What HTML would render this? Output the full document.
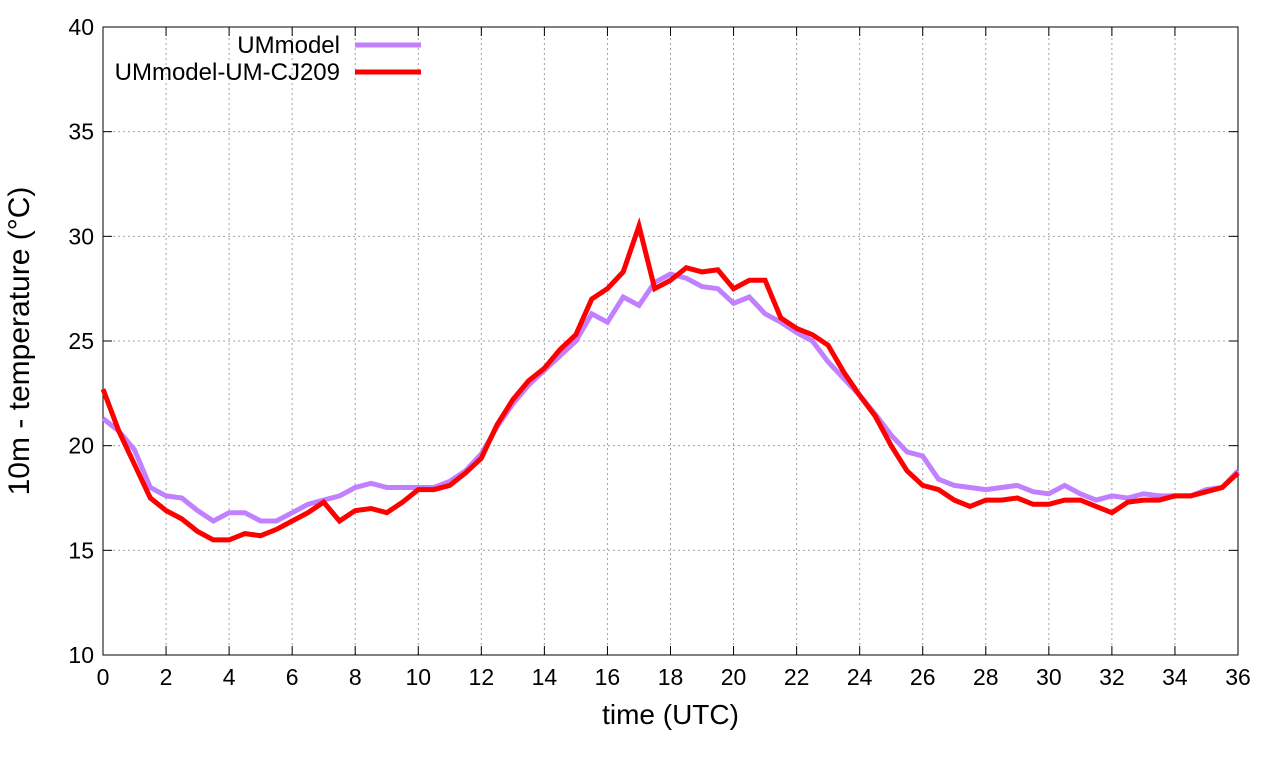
<!DOCTYPE html>
<html><head><meta charset="utf-8"><style>
html,body{margin:0;padding:0;background:#fff;}
svg text{font-family:"Liberation Sans",sans-serif;fill:#000;}
</style></head><body>
<svg id="chart" width="1280" height="760" xmlns="http://www.w3.org/2000/svg"></svg>
<script>
const timesStep = 0.5;
const umModel = [21.3,20.7,19.8,18.0,17.6,17.5,16.9,16.4,16.8,16.8,16.4,16.4,16.8,17.2,17.4,17.6,18.0,18.2,18.0,18.0,18.0,18.0,18.3,18.8,19.6,20.9,22.0,22.9,23.6,24.3,25.0,26.3,25.9,27.1,26.7,27.8,28.2,28.0,27.6,27.5,26.8,27.1,26.3,25.9,25.4,25.0,24.0,23.2,22.4,21.5,20.5,19.7,19.5,18.4,18.1,18.0,17.9,18.0,18.1,17.8,17.7,18.1,17.7,17.4,17.6,17.5,17.7,17.6,17.6,17.6,17.9,18.0,18.8];
const umCJ209 = [22.7,20.7,19.1,17.5,16.9,16.5,15.9,15.5,15.5,15.8,15.7,16.0,16.4,16.8,17.3,16.4,16.9,17.0,16.8,17.3,17.9,17.9,18.1,18.7,19.4,21.0,22.2,23.1,23.7,24.6,25.3,27.0,27.5,28.3,30.5,27.5,27.9,28.5,28.3,28.4,27.5,27.9,27.9,26.1,25.6,25.3,24.8,23.5,22.4,21.4,20.0,18.8,18.1,17.9,17.4,17.1,17.4,17.4,17.5,17.2,17.2,17.4,17.4,17.1,16.8,17.3,17.4,17.4,17.6,17.6,17.8,18.0,18.7];
const xTicks = [0,2,4,6,8,10,12,14,16,18,20,22,24,26,28,30,32,34,36];
const yTicks = [10,15,20,25,30,35,40];

const svg = document.getElementById('chart');
const NS = 'http://www.w3.org/2000/svg';
const X0=103, X1=1238, Y0=655, Y1=27;
const xs = t => X0 + (t-0)/(36-0)*(X1-X0);
const ys = v => Y0 - (v-10)/(40-10)*(Y0-Y1);
function mk(tag, attrs){const e=document.createElementNS(NS,tag);for(const k in attrs)e.setAttribute(k,attrs[k]);svg.appendChild(e);return e;}

xTicks.forEach(t=>{
  const x=xs(t);
  if(t>0&&t<36){
    const g=mk('line',{x1:x,y1:Y0,x2:x,y2:Y1,stroke:'#a0a0a0','stroke-width':1,'stroke-dasharray':'2,3'});
    
    
  }
  mk('line',{x1:x,y1:Y0,x2:x,y2:Y0-9,stroke:'#000','stroke-width':1});
  mk('line',{x1:x,y1:Y1,x2:x,y2:Y1+9,stroke:'#000','stroke-width':1});
  const tx=mk('text',{x:x,y:Y0+30,'text-anchor':'middle','font-size':23});
  tx.textContent=t;
  
  
});
yTicks.forEach(v=>{
  const y=ys(v);
  if(v>10&&v<40){
    const g=mk('line',{x1:X0,y1:y,x2:X1,y2:y,stroke:'#a0a0a0','stroke-width':1,'stroke-dasharray':'2,3'});
    
    
  }
  mk('line',{x1:X0,y1:y,x2:X0+9,y2:y,stroke:'#000','stroke-width':1});
  mk('line',{x1:X1,y1:y,x2:X1-9,y2:y,stroke:'#000','stroke-width':1});
  const tx=mk('text',{x:X0-9,y:y+8,'text-anchor':'end','font-size':23});
  tx.textContent=v;
  
  
});
const frame=mk('rect',{x:X0,y:Y1,width:X1-X0,height:Y0-Y1,fill:'none',stroke:'#000','stroke-width':1});



function series(vals,color,name){
  const d=vals.map((v,i)=>(i?'L':'M')+xs(i*timesStep).toFixed(1)+','+ys(v).toFixed(1)).join(' ');
  const p=mk('path',{d:d,fill:'none',stroke:color,'stroke-width':5,'stroke-linejoin':'miter'});
  
  
}
series(umModel,'#c080ff','series-ummodel');
series(umCJ209,'#ff0000','series-ummodel-um-cj209');

const l1=mk('text',{x:340,y:53,'text-anchor':'end','font-size':24});l1.textContent='UMmodel';


const s1=mk('line',{x1:355,y1:45,x2:421,y2:45,stroke:'#c080ff','stroke-width':5});


const l2=mk('text',{x:340,y:80,'text-anchor':'end','font-size':24});l2.textContent='UMmodel-UM-CJ209';


const s2=mk('line',{x1:355,y1:72,x2:421,y2:72,stroke:'#ff0000','stroke-width':5});



const xt=mk('text',{x:(X0+X1)/2,y:724,'text-anchor':'middle','font-size':28});xt.textContent='time (UTC)';


const yt=mk('text',{x:0,y:0,'text-anchor':'middle','font-size':30,transform:'translate(29,341) rotate(-90)'});yt.textContent='10m - temperature (°C)';


</script>
</body></html>
